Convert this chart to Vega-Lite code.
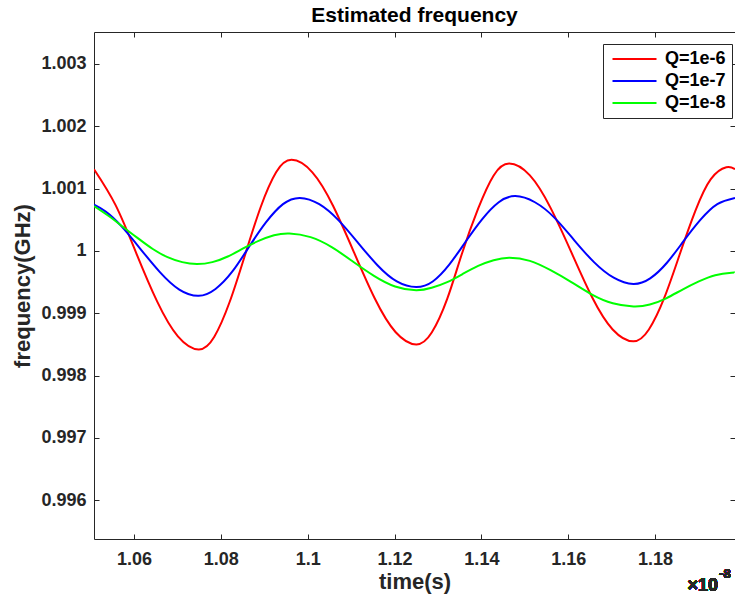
{
  "$schema": "https://vega.github.io/schema/vega-lite/v6.json",
  "width": 641,
  "height": 507,
  "autosize": {"type": "none"},
  "padding": {"left": 94, "top": 32, "right": 0, "bottom": 59},
  "background": "white",
  "title": {"text": "Estimated frequency", "fontSize": 21, "font": "Liberation Sans", "fontWeight": "bold", "color": "#000000", "anchor": "middle", "offset": 6},
  "config": {
    "view": {"stroke": "#262626", "strokeWidth": 1},
    "axis": {"domain": false, "grid": false, "ticks": true, "labelFont": "Liberation Sans", "labelFontSize": 18, "labelFontWeight": "bold", "labelColor": "#262626", "tickColor": "#262626", "tickOpacity": 1, "tickSize": 5, "tickWidth": 1, "offset": -5, "titleFont": "Liberation Sans", "titleFontSize": 22, "titleFontWeight": "bold", "titleColor": "#262626", "labelOverlap": false, "labelFlush": false}
  },
  "data": {"values": [
    {"t": 1.0508, "f": 1.00131, "s": "Q=1e-6"},
    {"t": 1.0558, "f": 1.00073, "s": "Q=1e-6"},
    {"t": 1.06055, "f": 0.99996, "s": "Q=1e-6"},
    {"t": 1.06533, "f": 0.99919, "s": "Q=1e-6"},
    {"t": 1.07012, "f": 0.99863, "s": "Q=1e-6"},
    {"t": 1.0749, "f": 0.99842, "s": "Q=1e-6"},
    {"t": 1.07847, "f": 0.99862, "s": "Q=1e-6"},
    {"t": 1.08203, "f": 0.99918, "s": "Q=1e-6"},
    {"t": 1.0856, "f": 0.99994, "s": "Q=1e-6"},
    {"t": 1.08917, "f": 1.0007, "s": "Q=1e-6"},
    {"t": 1.09273, "f": 1.00126, "s": "Q=1e-6"},
    {"t": 1.0963, "f": 1.00146, "s": "Q=1e-6"},
    {"t": 1.10108, "f": 1.00126, "s": "Q=1e-6"},
    {"t": 1.10587, "f": 1.00072, "s": "Q=1e-6"},
    {"t": 1.11065, "f": 0.99998, "s": "Q=1e-6"},
    {"t": 1.11543, "f": 0.99924, "s": "Q=1e-6"},
    {"t": 1.12022, "f": 0.9987, "s": "Q=1e-6"},
    {"t": 1.125, "f": 0.9985, "s": "Q=1e-6"},
    {"t": 1.12857, "f": 0.99869, "s": "Q=1e-6"},
    {"t": 1.13213, "f": 0.99923, "s": "Q=1e-6"},
    {"t": 1.1355, "f": 0.99995, "s": "Q=1e-6"},
    {"t": 1.13927, "f": 1.00068, "s": "Q=1e-6"},
    {"t": 1.14283, "f": 1.00121, "s": "Q=1e-6"},
    {"t": 1.1464, "f": 1.0014, "s": "Q=1e-6"},
    {"t": 1.15117, "f": 1.00121, "s": "Q=1e-6"},
    {"t": 1.15593, "f": 1.00069, "s": "Q=1e-6"},
    {"t": 1.1607, "f": 0.99998, "s": "Q=1e-6"},
    {"t": 1.16547, "f": 0.99926, "s": "Q=1e-6"},
    {"t": 1.17023, "f": 0.99874, "s": "Q=1e-6"},
    {"t": 1.175, "f": 0.99855, "s": "Q=1e-6"},
    {"t": 1.17857, "f": 0.99874, "s": "Q=1e-6"},
    {"t": 1.18213, "f": 0.99925, "s": "Q=1e-6"},
    {"t": 1.1857, "f": 0.99995, "s": "Q=1e-6"},
    {"t": 1.18927, "f": 1.00064, "s": "Q=1e-6"},
    {"t": 1.19283, "f": 1.00115, "s": "Q=1e-6"},
    {"t": 1.1964, "f": 1.00134, "s": "Q=1e-6"},
    {"t": 1.1984, "f": 1.00131, "s": "Q=1e-6"},
    {"t": 1.0508, "f": 1.00074, "s": "Q=1e-7"},
    {"t": 1.0535, "f": 1.00063, "s": "Q=1e-7"},
    {"t": 1.05705, "f": 1.0004, "s": "Q=1e-7"},
    {"t": 1.06151, "f": 1.00003, "s": "Q=1e-7"},
    {"t": 1.06597, "f": 0.99966, "s": "Q=1e-7"},
    {"t": 1.07044, "f": 0.99938, "s": "Q=1e-7"},
    {"t": 1.0749, "f": 0.99928, "s": "Q=1e-7"},
    {"t": 1.07878, "f": 0.99939, "s": "Q=1e-7"},
    {"t": 1.08267, "f": 0.99967, "s": "Q=1e-7"},
    {"t": 1.08655, "f": 1.00007, "s": "Q=1e-7"},
    {"t": 1.09043, "f": 1.00046, "s": "Q=1e-7"},
    {"t": 1.09432, "f": 1.00075, "s": "Q=1e-7"},
    {"t": 1.0982, "f": 1.00085, "s": "Q=1e-7"},
    {"t": 1.10267, "f": 1.00075, "s": "Q=1e-7"},
    {"t": 1.10713, "f": 1.00049, "s": "Q=1e-7"},
    {"t": 1.1116, "f": 1.00013, "s": "Q=1e-7"},
    {"t": 1.11607, "f": 0.99977, "s": "Q=1e-7"},
    {"t": 1.12053, "f": 0.99951, "s": "Q=1e-7"},
    {"t": 1.125, "f": 0.99942, "s": "Q=1e-7"},
    {"t": 1.1288, "f": 0.99951, "s": "Q=1e-7"},
    {"t": 1.1326, "f": 0.99978, "s": "Q=1e-7"},
    {"t": 1.1364, "f": 1.00015, "s": "Q=1e-7"},
    {"t": 1.1402, "f": 1.00051, "s": "Q=1e-7"},
    {"t": 1.144, "f": 1.00078, "s": "Q=1e-7"},
    {"t": 1.1478, "f": 1.00088, "s": "Q=1e-7"},
    {"t": 1.15233, "f": 1.00078, "s": "Q=1e-7"},
    {"t": 1.15687, "f": 1.00053, "s": "Q=1e-7"},
    {"t": 1.1614, "f": 1.00017, "s": "Q=1e-7"},
    {"t": 1.16593, "f": 0.99982, "s": "Q=1e-7"},
    {"t": 1.17047, "f": 0.99957, "s": "Q=1e-7"},
    {"t": 1.175, "f": 0.99947, "s": "Q=1e-7"},
    {"t": 1.17887, "f": 0.99956, "s": "Q=1e-7"},
    {"t": 1.18273, "f": 0.99981, "s": "Q=1e-7"},
    {"t": 1.1866, "f": 1.00016, "s": "Q=1e-7"},
    {"t": 1.19047, "f": 1.0005, "s": "Q=1e-7"},
    {"t": 1.19433, "f": 1.00075, "s": "Q=1e-7"},
    {"t": 1.1984, "f": 1.00085, "s": "Q=1e-7"},
    {"t": 1.0508, "f": 1.00072, "s": "Q=1e-8"},
    {"t": 1.05419, "f": 1.00056, "s": "Q=1e-8"},
    {"t": 1.05757, "f": 1.00038, "s": "Q=1e-8"},
    {"t": 1.06096, "f": 1.0002, "s": "Q=1e-8"},
    {"t": 1.06434, "f": 1.00003, "s": "Q=1e-8"},
    {"t": 1.06773, "f": 0.9999, "s": "Q=1e-8"},
    {"t": 1.07112, "f": 0.99982, "s": "Q=1e-8"},
    {"t": 1.0745, "f": 0.99979, "s": "Q=1e-8"},
    {"t": 1.07805, "f": 0.99982, "s": "Q=1e-8"},
    {"t": 1.0816, "f": 0.99991, "s": "Q=1e-8"},
    {"t": 1.08515, "f": 1.00004, "s": "Q=1e-8"},
    {"t": 1.0887, "f": 1.00016, "s": "Q=1e-8"},
    {"t": 1.09225, "f": 1.00025, "s": "Q=1e-8"},
    {"t": 1.0958, "f": 1.00028, "s": "Q=1e-8"},
    {"t": 1.10067, "f": 1.00022, "s": "Q=1e-8"},
    {"t": 1.10553, "f": 1.00006, "s": "Q=1e-8"},
    {"t": 1.1104, "f": 0.99983, "s": "Q=1e-8"},
    {"t": 1.11527, "f": 0.9996, "s": "Q=1e-8"},
    {"t": 1.12013, "f": 0.99943, "s": "Q=1e-8"},
    {"t": 1.125, "f": 0.99937, "s": "Q=1e-8"},
    {"t": 1.12856, "f": 0.99941, "s": "Q=1e-8"},
    {"t": 1.13213, "f": 0.9995, "s": "Q=1e-8"},
    {"t": 1.13569, "f": 0.99963, "s": "Q=1e-8"},
    {"t": 1.13925, "f": 0.99976, "s": "Q=1e-8"},
    {"t": 1.14282, "f": 0.99985, "s": "Q=1e-8"},
    {"t": 1.14638, "f": 0.99989, "s": "Q=1e-8"},
    {"t": 1.15116, "f": 0.99984, "s": "Q=1e-8"},
    {"t": 1.15593, "f": 0.99969, "s": "Q=1e-8"},
    {"t": 1.16071, "f": 0.9995, "s": "Q=1e-8"},
    {"t": 1.16548, "f": 0.9993, "s": "Q=1e-8"},
    {"t": 1.17026, "f": 0.99916, "s": "Q=1e-8"},
    {"t": 1.17503, "f": 0.99911, "s": "Q=1e-8"},
    {"t": 1.17879, "f": 0.99914, "s": "Q=1e-8"},
    {"t": 1.18255, "f": 0.99924, "s": "Q=1e-8"},
    {"t": 1.18632, "f": 0.99938, "s": "Q=1e-8"},
    {"t": 1.19008, "f": 0.99951, "s": "Q=1e-8"},
    {"t": 1.19384, "f": 0.99961, "s": "Q=1e-8"},
    {"t": 1.1976, "f": 0.99965, "s": "Q=1e-8"},
    {"t": 1.1984, "f": 0.99965, "s": "Q=1e-8"}
  ]},
  "layer": [
    {
      "mark": {"type": "line", "interpolate": "natural", "strokeWidth": 2, "clip": true},
      "encoding": {
        "x": {"field": "t", "type": "quantitative", "scale": {"domain": [1.0508, 1.1984], "nice": false, "zero": false},
              "axis": {"orient": "bottom", "values": [1.06, 1.08, 1.1, 1.12, 1.14, 1.16, 1.18], "format": "~g", "title": "time(s)", "labelPadding": 11, "titlePadding": 3}},
        "y": {"field": "f", "type": "quantitative", "scale": {"domain": [0.99538, 1.00351], "nice": false, "zero": false},
              "axis": {"orient": "left", "values": [0.996, 0.997, 0.998, 0.999, 1, 1.001, 1.002, 1.003], "format": "~g", "title": "frequency(GHz)", "labelPadding": 8, "titlePadding": 6}},
        "color": {"field": "s", "type": "nominal",
                  "scale": {"domain": ["Q=1e-6", "Q=1e-7", "Q=1e-8"], "range": ["#ff0000", "#0000ff", "#00ff00"]},
                  "legend": {"orient": "none", "legendX": 509, "legendY": 12, "title": null, "symbolType": "M-1,0H7", "symbolSize": 121, "symbolStrokeWidth": 2, "labelOffset": 38, "labelFont": "Liberation Sans", "labelFontSize": 18, "labelFontWeight": "bold", "labelColor": "#000000", "rowPadding": 4, "padding": 6, "strokeColor": "#262626", "fillColor": "#ffffff", "cornerRadius": 0}}
      }
    },
    {
      "mark": {"type": "line", "opacity": 0},
      "encoding": {
        "x": {"field": "t", "type": "quantitative", "axis": {"orient": "top", "labels": false, "title": null, "values": [1.06, 1.08, 1.1, 1.12, 1.14, 1.16, 1.18]}},
        "y": {"field": "f", "type": "quantitative", "axis": {"orient": "right", "labels": false, "title": null, "values": [0.996, 0.997, 0.998, 0.999, 1, 1.001, 1.002, 1.003]}}
      }
    },
    {
      "mark": {"type": "text", "text": "×10", "align": "right", "baseline": "alphabetic", "font": "Liberation Sans", "fontSize": 18, "fontWeight": "bold", "color": "#262626", "dy": 52},
      "encoding": {
        "x": {"datum": 1.1945, "type": "quantitative", "axis": null},
        "y": {"datum": 0.99538, "type": "quantitative", "axis": null}
      }
    },
    {
      "mark": {"type": "text", "text": "-8", "align": "left", "baseline": "alphabetic", "font": "Liberation Sans", "fontSize": 13, "fontWeight": "bold", "color": "#262626", "dy": 39, "dx": 1},
      "encoding": {
        "x": {"datum": 1.1945, "type": "quantitative", "axis": null},
        "y": {"datum": 0.99538, "type": "quantitative", "axis": null}
      }
    }
  ],
  "resolve": {"axis": {"x": "independent", "y": "independent"}}
}
